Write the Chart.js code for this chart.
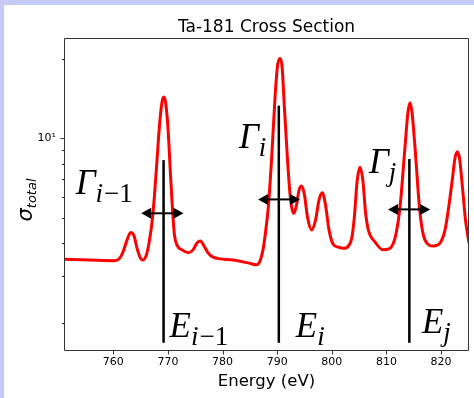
<!DOCTYPE html>
<html><head><meta charset="utf-8">
<script src="https://cdn.jsdelivr.net/npm/chart.js@4"></script>
<style>
html,body{margin:0;padding:0;background:#c5cbf5;width:474px;height:398px;overflow:hidden}
#wrap{position:absolute;left:4px;top:5px;width:470px;height:393px;background:#fff}
canvas{display:block}
</style></head><body>
<div id="wrap"><canvas id="c" width="470" height="393"></canvas></div>
<script>
// ---- data ----
const energy = [751.0, 755.73, 760.13, 761.04, 761.78, 762.51, 763.19, 763.79, 764.34, 764.89,
  765.35, 765.99, 766.54, 767.09, 767.54, 768.0, 768.46, 768.92, 769.23, 769.56,
  770.01, 770.47, 770.84, 771.20, 771.66, 772.58, 773.77, 774.59, 775.32, 775.96,
  776.61, 777.34, 778.25, 781.92, 785.03, 786.22, 786.86, 787.50, 787.96, 788.38,
  789.00, 789.61, 790.06, 790.52, 790.89, 791.31, 791.86, 792.35, 792.72, 793.08,
  793.54, 794.0, 794.49, 795.0, 795.55, 796.32, 797.02, 797.66, 798.26, 798.85,
  799.49, 800.22, 801.19, 802.24, 803.15, 803.70, 804.16, 804.62, 805.17, 805.72,
  806.17, 806.69, 807.91, 809.38, 810.47, 811.57, 812.49, 813.40, 813.95, 814.32,
  814.68, 815.23, 816.15, 817.06, 818.59, 819.81, 820.73, 821.46, 822.10, 822.56,
  822.98, 823.38, 823.97, 824.48, 825.12];
const sigmaTotal = [3.48, 3.46, 3.44, 3.49, 3.71, 4.12, 4.40, 4.27, 3.84, 3.55,
  3.46, 3.58, 4.01, 4.82, 6.10, 8.28, 11.23, 13.73, 14.34, 13.73,
  10.94, 7.26, 5.35, 4.30, 3.94, 3.78, 3.69, 3.78, 4.01, 4.08,
  3.91, 3.68, 3.55, 3.46, 3.36, 3.32, 3.43, 3.88, 4.57, 5.49,
  8.50, 14.34, 18.79, 20.09, 18.79, 13.26, 8.50, 6.15, 5.40, 5.20,
  5.59, 6.37, 6.60, 6.10, 5.03, 4.50, 4.90, 5.84, 6.22, 5.59,
  4.50, 3.98, 3.87, 3.83, 3.94, 4.23, 5.12, 6.83, 7.77, 6.83,
  5.26, 4.50, 4.05, 3.78, 3.81, 4.19, 5.49, 9.27, 12.58, 13.64,
  12.58, 9.27, 5.21, 4.12, 3.91, 4.01, 4.50, 5.59, 7.07, 8.42,
  8.90, 8.42, 6.37, 4.90, 4.01];
const resonanceE   = [769.2, 790.3, 814.2];
const resonanceTop = [8.27, 13.3, 8.35];
const resonanceBottom = 1.68;
const widthLeft  = [765.1, 786.5, 810.3];
const widthRight = [772.85, 794.2, 818.0];
const widthY     = [5.2, 5.87, 5.38];
const xTickValues = [760, 770, 780, 790, 800, 810, 820];
const yTickValues = [2, 3, 4, 5, 6, 7, 8, 9, 10, 20];
const xRange = [750.97, 825.12];
const yRange = [1.578, 24.0];
// annotation labels: [main glyph, italic subscript part, upright subscript part, x, y]
const gammaLabels = [['Γ', 'i', '−1', 753.1, 6.15], ['Γ', 'i', '', 783.0, 9.19], ['Γ', 'j', '', 806.8, 7.39]];
const energyLabels = [['E', 'i', '−1', 770.3, 1.767], ['E', 'i', '', 793.4, 1.767], ['E', 'j', '', 816.5, 1.83]];
const titleText = 'Ta-181 Cross Section';
const xTitle = 'Energy (eV)';

// ---- chart ----
const curve = energy.map((e, i) => ({x: e, y: sigmaTotal[i]}));
const vlineSets = resonanceE.map((e, i) => ({
  data: [{x: e, y: resonanceBottom}, {x: e, y: resonanceTop[i]}],
  borderColor: '#000', borderWidth: 2.5, pointRadius: 0, order: 1, clip: 0
}));

const deco = {
  id: 'deco',
  afterDatasetsDraw(chart) {
    const ctx = chart.ctx, xs = chart.scales.x, ys = chart.scales.y;
    ctx.save();
    ctx.fillStyle = '#000'; ctx.strokeStyle = '#000'; ctx.lineWidth = 2;
    const hl = 10, hw = 5.5;
    widthLeft.forEach((l, i) => {
      const x1 = xs.getPixelForValue(l), x2 = xs.getPixelForValue(widthRight[i]);
      const y = ys.getPixelForValue(widthY[i]);
      ctx.beginPath(); ctx.moveTo(x1 + hl - 1, y); ctx.lineTo(x2 - hl + 1, y); ctx.stroke();
      ctx.beginPath(); ctx.moveTo(x1, y); ctx.lineTo(x1 + hl, y - hw); ctx.lineTo(x1 + hl, y + hw); ctx.closePath(); ctx.fill();
      ctx.beginPath(); ctx.moveTo(x2, y); ctx.lineTo(x2 - hl, y - hw); ctx.lineTo(x2 - hl, y + hw); ctx.closePath(); ctx.fill();
    });
    ctx.restore();
  },
  afterDraw(chart) {
    const ctx = chart.ctx, xs = chart.scales.x, ys = chart.scales.y, a = chart.chartArea;
    ctx.save();
    // frame
    ctx.strokeStyle = '#333'; ctx.lineWidth = 1;
    ctx.beginPath();
    ctx.moveTo(a.left + 0.5, a.top + 0.5); ctx.lineTo(a.right - 0.5, a.top + 0.5);
    ctx.lineTo(a.right - 0.5, a.bottom + 0.5); ctx.lineTo(a.left + 0.5, a.bottom + 0.5); ctx.closePath();
    ctx.stroke();
    // tick marks
    ctx.beginPath();
    xs.ticks.forEach(t => { const p = Math.round(xs.getPixelForValue(t.value)) + 0.5; ctx.moveTo(p, a.bottom + 0.5); ctx.lineTo(p, a.bottom + 4.5); });
    ys.ticks.forEach(t => { const p = Math.round(ys.getPixelForValue(t.value)) + 0.5; const len = t.value === 10 ? 4 : 2.5; ctx.moveTo(a.left + 0.5, p); ctx.lineTo(a.left + 0.5 - len, p); });
    ctx.stroke();
    // titles
    ctx.fillStyle = '#000';
    const cx = (a.left + a.right) / 2;
    ctx.textAlign = 'center'; ctx.textBaseline = 'alphabetic';
    ctx.font = '17px "DejaVu Sans"';
    ctx.fillText(titleText, cx, 26.7);
    ctx.font = '16.5px "DejaVu Sans"';
    ctx.fillText(xTitle, cx, 381);
    // y title (rotated)
    ctx.save();
    ctx.translate(28, 195);
    ctx.rotate(-Math.PI / 2);
    ctx.textAlign = 'left';
    ctx.font = 'italic 21px "DejaVu Sans"'; const w1 = ctx.measureText('σ').width;
    ctx.font = 'italic 13px "DejaVu Sans"'; const w2 = ctx.measureText('total').width;
    const s = -(w1 + w2) / 2;
    ctx.font = 'italic 21px "DejaVu Sans"'; ctx.fillText('σ', s, 0);
    ctx.font = 'italic 13px "DejaVu Sans"'; ctx.fillText('total', s + w1, 4);
    ctx.restore();
    // math labels
    const fs = 35, ss = 27;
    const drawLabel = (lab) => {
      const [m, si, su, dx, dy] = lab;
      let x = xs.getPixelForValue(dx), y = ys.getPixelForValue(dy);
      ctx.textAlign = 'left';
      ctx.font = 'italic ' + fs + 'px "Liberation Serif"';
      ctx.fillText(m, x, y);
      x += ctx.measureText(m).width;
      ctx.font = 'italic ' + ss + 'px "Liberation Serif"';
      ctx.fillText(si, x, y + 8);
      x += ctx.measureText(si).width + 1;
      if (su) { ctx.font = ss + 'px "Liberation Serif"'; ctx.fillText(su, x, y + 8); }
    };
    gammaLabels.forEach(drawLabel);
    energyLabels.forEach(drawLabel);
    ctx.restore();
  }
};

new Chart(document.getElementById('c'), {
  type: 'line',
  data: {
    datasets: [
      {data: curve, borderColor: '#ff0000', borderWidth: 3, pointRadius: 0, cubicInterpolationMode: 'monotone', order: 2, clip: 0},
      ...vlineSets
    ]
  },
  options: {
    responsive: false, animation: false, devicePixelRatio: 1,
    layout: {padding: {left: 0, right: 5, top: 33, bottom: 0}},
    plugins: {legend: {display: false}, tooltip: {enabled: false}, title: {display: false}},
    scales: {
      x: {
        type: 'linear', min: xRange[0], max: xRange[1],
        afterBuildTicks: s => { s.ticks = xTickValues.map(v => ({value: v})); },
        afterFit: s => { s.height = 48; },
        grid: {display: false, drawTicks: false}, border: {display: false},
        ticks: {autoSkip: false, maxRotation: 0, padding: 6, color: '#000', font: {family: 'DejaVu Sans', size: 11}, callback: v => String(v)}
      },
      y: {
        type: 'logarithmic', min: yRange[0], max: yRange[1],
        afterBuildTicks: s => { s.ticks = yTickValues.map(v => ({value: v})); },
        afterFit: s => { s.width = 60; },
        grid: {display: false, drawTicks: false}, border: {display: false},
        ticks: {autoSkip: false, padding: 8, color: '#000', font: {family: 'DejaVu Sans', size: 11}, callback: v => (v === 10 ? '10¹' : '')}
      }
    }
  },
  plugins: [deco]
});
</script>
</body></html>
